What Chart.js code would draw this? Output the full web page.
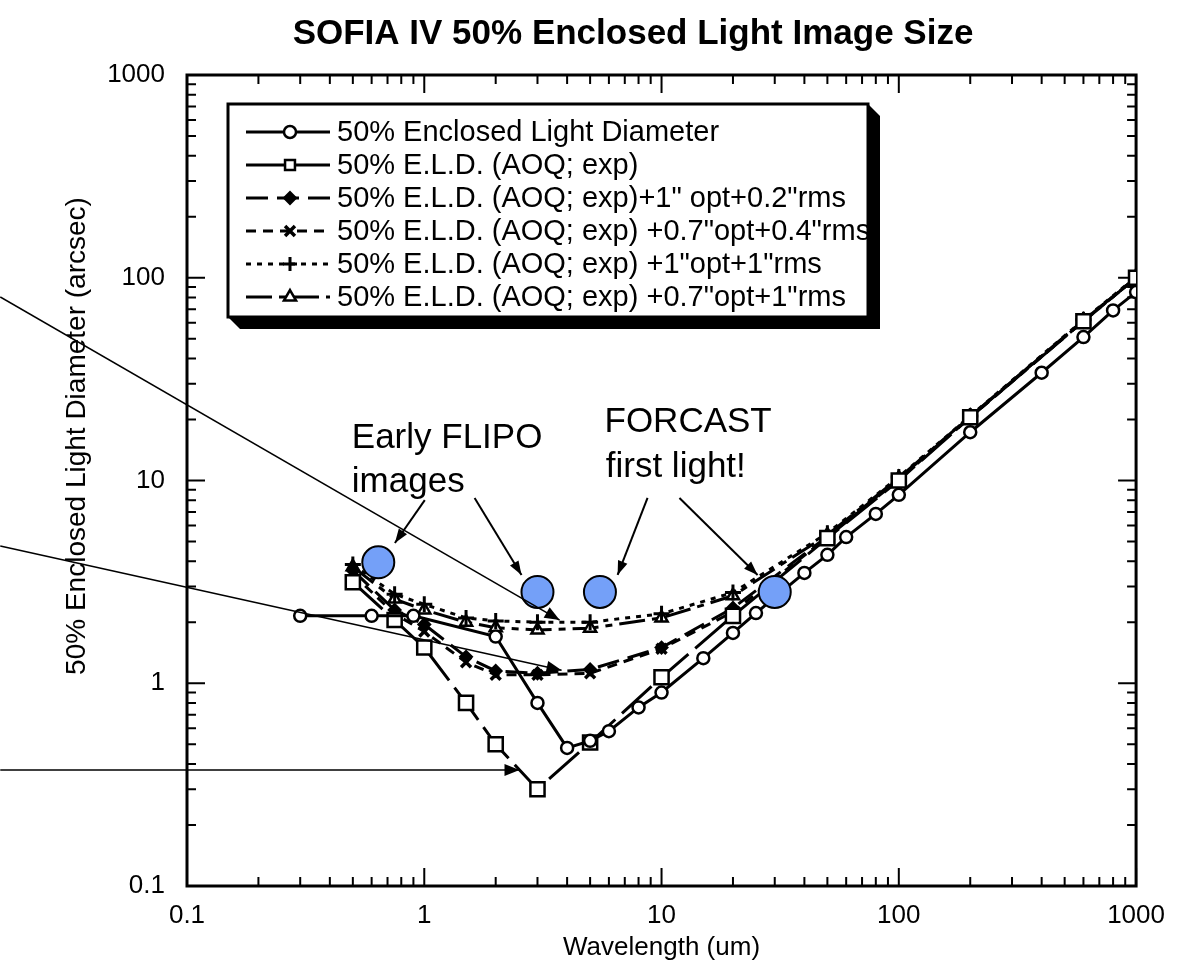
<!DOCTYPE html>
<html><head><meta charset="utf-8">
<script src="https://cdn.jsdelivr.net/npm/chart.js@4/dist/chart.umd.min.js"></script>
<style>html,body{margin:0;padding:0;background:#fff;}#wrap{width:1179px;height:980px;}</style>
</head><body><div id="wrap"><canvas id="c" width="1179" height="980"></canvas></div>
<script>
const FONT = '"Liberation Sans", Arial, Helvetica, sans-serif';
const chartTitle = 'SOFIA IV 50% Enclosed Light Image Size';
const xAxisTitle = 'Wavelength (um)';
const yAxisTitle = '50% Enclosed Light Diameter (arcsec)';
const tickValues = [0.1, 1, 10, 100, 1000];
const tickLabels = ['0.1', '1', '10', '100', '1000'];

const seriesNames = [
  '50% Enclosed Light Diameter',
  '50% E.L.D. (AOQ; exp)',
  '50% E.L.D. (AOQ; exp)+1" opt+0.2"rms',
  '50% E.L.D. (AOQ; exp) +0.7"opt+0.4"rms',
  '50% E.L.D. (AOQ; exp) +1"opt+1"rms',
  '50% E.L.D. (AOQ; exp) +0.7"opt+1"rms'
];

// Series 1: 50% Enclosed Light Diameter
const eldX = [0.3, 0.6, 0.9, 2, 3, 4, 5, 6, 8, 10, 15, 20, 25, 30, 40, 50, 60, 80, 100, 200, 400, 600, 800, 1000];
const eldY = [2.15, 2.15, 2.15, 1.7, 0.8, 0.48, 0.52, 0.58, 0.76, 0.9, 1.33, 1.77, 2.22, 2.65, 3.5, 4.3, 5.26, 6.84, 8.5, 17.3, 34, 51, 69, 85];

// Series 2..6 share wavelengths
const aoqX = [0.5, 0.75, 1, 1.5, 2, 3, 5, 10, 20, 50, 100, 200, 600, 1000];
const aoqY = [3.15, 2.05, 1.5, 0.8, 0.5, 0.3, 0.51, 1.07, 2.15, 5.2, 10, 20.5, 61, 100];
const opt1rms02Y = [3.6, 2.3, 1.95, 1.35, 1.15, 1.12, 1.17, 1.5, 2.35, 5.3, 10.2, 20.6, 61.5, 100];
const opt07rms04Y = [3.45, 2.2, 1.8, 1.27, 1.1, 1.1, 1.12, 1.48, 2.25, 5.25, 10.1, 20.5, 61, 100];
const opt1rms1Y = [3.85, 2.75, 2.45, 2.1, 2.03, 2.0, 2.0, 2.2, 2.8, 5.5, 10.4, 20.8, 62, 101];
const opt07rms1Y = [3.75, 2.6, 2.3, 2.0, 1.88, 1.83, 1.87, 2.1, 2.7, 5.4, 10.3, 20.7, 61.5, 100];

// Highlighted observations (blue circles)
const obsX = [0.64, 3.0, 5.5, 30];
const obsY = [3.95, 2.82, 2.82, 2.82];

// Annotation texts (data coordinates: wavelength, diameter)
const noteTexts = ['Early FLIPO', 'images', 'FORCAST', 'first light!'];
const noteX = [0.495, 0.495, 5.75, 5.82];
const noteY = [14.5, 8.77, 17.3, 10.4];
// Arrows from labels (start -> end), data coordinates
const arrowX0 = [1.005, 1.63, 8.73, 11.9];
const arrowY0 = [8.0, 8.2, 8.2, 8.2];
const arrowX1 = [0.752, 2.57, 6.53, 25.4];
const arrowY1 = [4.92, 3.42, 3.42, 3.42];
// Long pointer lines from the left margin
const pointerX0 = [0.01633, 0.01633, 0.01633];
const pointerY0 = [80.4, 4.75, 0.373];
const pointerX1 = [3.72, 3.79, 2.52];
const pointerY1 = [2.05, 1.16, 0.373];

const pts = (xs, ys) => xs.map((x, i) => ({x: x, y: ys[i]}));

function ds(label, xs, ys, style, dash, radius, bg, bw) {
  return {
    label: label, data: pts(xs, ys), borderColor: '#000', borderWidth: 3, borderDash: dash,
    pointStyle: style, pointRadius: radius, pointHoverRadius: radius, pointBackgroundColor: bg,
    pointBorderColor: '#000', pointBorderWidth: bw, fill: false, tension: 0, order: 1
  };
}

const datasets = [
  ds(seriesNames[0], eldX, eldY, 'circle', [], 6, '#fff', 2.5),
  ds(seriesNames[1], aoqX, aoqY, 'rect', [40, 9], 10, '#fff', 2.5),
  ds(seriesNames[2], aoqX, opt1rms02Y, 'rectRot', [22, 9], 6, '#000', 2),
  ds(seriesNames[3], aoqX, opt07rms04Y, 'crossRot', [10, 7], 7, '#000', 3.5),
  ds(seriesNames[4], aoqX, opt1rms1Y, 'cross', [5, 6], 8, '#000', 3),
  ds(seriesNames[5], aoqX, opt07rms1Y, 'triangle', [26, 7, 7, 7], 7, '#fff', 2.5),
  {
    label: 'observed', data: pts(obsX, obsY), showLine: false, pointStyle: 'circle',
    pointRadius: 16, pointHoverRadius: 16, pointBackgroundColor: '#74A0F8', pointBorderColor: '#000',
    pointBorderWidth: 2, borderColor: '#000', order: 0
  }
];

const framePlugin = {
  id: 'framePlugin',
  beforeDatasetsDraw(chart) {
    const ctx = chart.ctx, a = chart.chartArea, xs = chart.scales.x, ys = chart.scales.y;
    ctx.save();
    ctx.strokeStyle = '#000';
    ctx.lineWidth = 2;
    ctx.beginPath();
    for (let d = -1; d <= 2; d++) {
      for (let m = 1; m <= 10; m++) {
        const v = m * Math.pow(10, d);
        const major = (m === 1 || m === 10);
        const len = major ? 18 : 9;
        const px = xs.getPixelForValue(v);
        ctx.moveTo(px, a.bottom); ctx.lineTo(px, a.bottom - len);
        ctx.moveTo(px, a.top); ctx.lineTo(px, a.top + len);
        const py = ys.getPixelForValue(v);
        ctx.moveTo(a.left, py); ctx.lineTo(a.left + len, py);
        ctx.moveTo(a.right, py); ctx.lineTo(a.right - len, py);
      }
    }
    ctx.stroke();
    ctx.lineWidth = 3;
    ctx.strokeRect(a.left, a.top, a.right - a.left, a.bottom - a.top);
    // y axis title
    ctx.fillStyle = '#000';
    ctx.font = '28px ' + FONT;
    ctx.textAlign = 'center'; ctx.textBaseline = 'middle';
    ctx.translate(77, 436);
    ctx.rotate(-Math.PI / 2);
    ctx.fillText(yAxisTitle, 0, 0);
    ctx.restore();
  }
};

function arrowHead(ctx, x0, y0, x1, y1, len, wid) {
  const ang = Math.atan2(y1 - y0, x1 - x0);
  ctx.beginPath();
  ctx.moveTo(x1, y1);
  ctx.lineTo(x1 - len * Math.cos(ang) + wid * Math.sin(ang), y1 - len * Math.sin(ang) - wid * Math.cos(ang));
  ctx.lineTo(x1 - len * Math.cos(ang) - wid * Math.sin(ang), y1 - len * Math.sin(ang) + wid * Math.cos(ang));
  ctx.closePath();
  ctx.fill();
}

const notesPlugin = {
  id: 'notesPlugin',
  afterDatasetsDraw(chart) {
    const ctx = chart.ctx, xs = chart.scales.x, ys = chart.scales.y;
    ctx.save();
    ctx.strokeStyle = '#000'; ctx.fillStyle = '#000';
    ctx.lineWidth = 1.5;
    for (let i = 0; i < pointerX0.length; i++) {
      const x0 = xs.getPixelForValue(pointerX0[i]), y0 = ys.getPixelForValue(pointerY0[i]);
      const x1 = xs.getPixelForValue(pointerX1[i]), y1 = ys.getPixelForValue(pointerY1[i]);
      ctx.beginPath(); ctx.moveTo(x0, y0); ctx.lineTo(x1, y1); ctx.stroke();
      arrowHead(ctx, x0, y0, x1, y1, 15, 6);
    }
    ctx.lineWidth = 2;
    for (let i = 0; i < arrowX0.length; i++) {
      const x0 = xs.getPixelForValue(arrowX0[i]), y0 = ys.getPixelForValue(arrowY0[i]);
      const x1 = xs.getPixelForValue(arrowX1[i]), y1 = ys.getPixelForValue(arrowY1[i]);
      ctx.beginPath(); ctx.moveTo(x0, y0); ctx.lineTo(x1, y1); ctx.stroke();
      arrowHead(ctx, x0, y0, x1, y1, 14, 5);
    }
    ctx.font = '35px ' + FONT;
    ctx.textAlign = 'left'; ctx.textBaseline = 'alphabetic';
    for (let i = 0; i < noteTexts.length; i++) {
      ctx.fillText(noteTexts[i], xs.getPixelForValue(noteX[i]), ys.getPixelForValue(noteY[i]));
    }
    ctx.font = 'bold 35px ' + FONT;
    ctx.textAlign = 'center'; ctx.textBaseline = 'middle';
    ctx.fillText(chartTitle, 633, 34);
    ctx.restore();
  }
};

const legendPlugin = {
  id: 'boxLegend',
  afterDraw(chart) {
    const ctx = chart.ctx;
    const bx = 228, by = 104, bw = 640, bh = 213, sh = 12;
    ctx.save();
    ctx.fillStyle = '#000';
    ctx.beginPath();
    ctx.moveTo(bx + bw, by); ctx.lineTo(bx + bw + sh, by + sh); ctx.lineTo(bx + bw + sh, by + bh + sh);
    ctx.lineTo(bx + sh, by + bh + sh); ctx.lineTo(bx, by + bh); ctx.closePath(); ctx.fill();
    ctx.fillStyle = '#fff';
    ctx.fillRect(bx, by, bw, bh);
    ctx.lineWidth = 3; ctx.strokeStyle = '#000';
    ctx.strokeRect(bx, by, bw, bh);
    ctx.font = '29px ' + FONT;
    ctx.textAlign = 'left'; ctx.textBaseline = 'middle';
    for (let i = 0; i < 6; i++) {
      const d = chart.data.datasets[i];
      const cy = by + 28 + i * 33;
      ctx.save();
      ctx.lineWidth = 3; ctx.strokeStyle = '#000';
      ctx.setLineDash(d.borderDash);
      ctx.beginPath(); ctx.moveTo(246, cy); ctx.lineTo(330, cy); ctx.stroke();
      ctx.setLineDash([]);
      ctx.fillStyle = d.pointBackgroundColor; ctx.strokeStyle = '#000'; ctx.lineWidth = d.pointBorderWidth;
      Chart.helpers.drawPoint(ctx, {pointStyle: d.pointStyle, radius: Math.min(d.pointRadius, 7), borderWidth: d.pointBorderWidth}, 290, cy);
      ctx.restore();
      ctx.fillStyle = '#000';
      ctx.fillText(d.label, 337, cy + 1);
    }
    ctx.restore();
  }
};

new Chart(document.getElementById('c'), {
  type: 'line',
  data: {datasets: datasets},
  options: {
    responsive: false, animation: false, devicePixelRatio: 1,
    layout: {padding: {top: 75, right: 42, left: 0, bottom: 0}},
    plugins: {legend: {display: false}, tooltip: {enabled: false}, title: {display: false}},
    scales: {
      x: {
        type: 'logarithmic', min: 0.1, max: 1000, position: 'bottom',
        grid: {display: false, drawTicks: false}, border: {display: false},
        afterBuildTicks: s => { s.ticks = tickValues.map(v => ({value: v})); },
        afterFit: s => { s.height = 94; },
        ticks: {color: '#000', font: {family: FONT, size: 26}, padding: 14, maxRotation: 0, autoSkip: false,
          callback: v => { const i = tickValues.indexOf(v); return i >= 0 ? tickLabels[i] : ''; }},
        title: {display: true, text: xAxisTitle, color: '#000', font: {family: FONT, size: 26}, padding: {top: 0, bottom: 17}}
      },
      y: {
        type: 'logarithmic', min: 0.1, max: 1000, position: 'left',
        grid: {display: false, drawTicks: false}, border: {display: false},
        afterBuildTicks: s => { s.ticks = tickValues.map(v => ({value: v})); },
        afterFit: s => { s.width = 187; },
        ticks: {color: '#000', font: {family: FONT, size: 26}, padding: 22, autoSkip: false,
          callback: v => { const i = tickValues.indexOf(v); return i >= 0 ? tickLabels[i] : ''; }},
        title: {display: false, text: yAxisTitle}
      }
    }
  },
  plugins: [framePlugin, notesPlugin, legendPlugin]
});
</script></body></html>
